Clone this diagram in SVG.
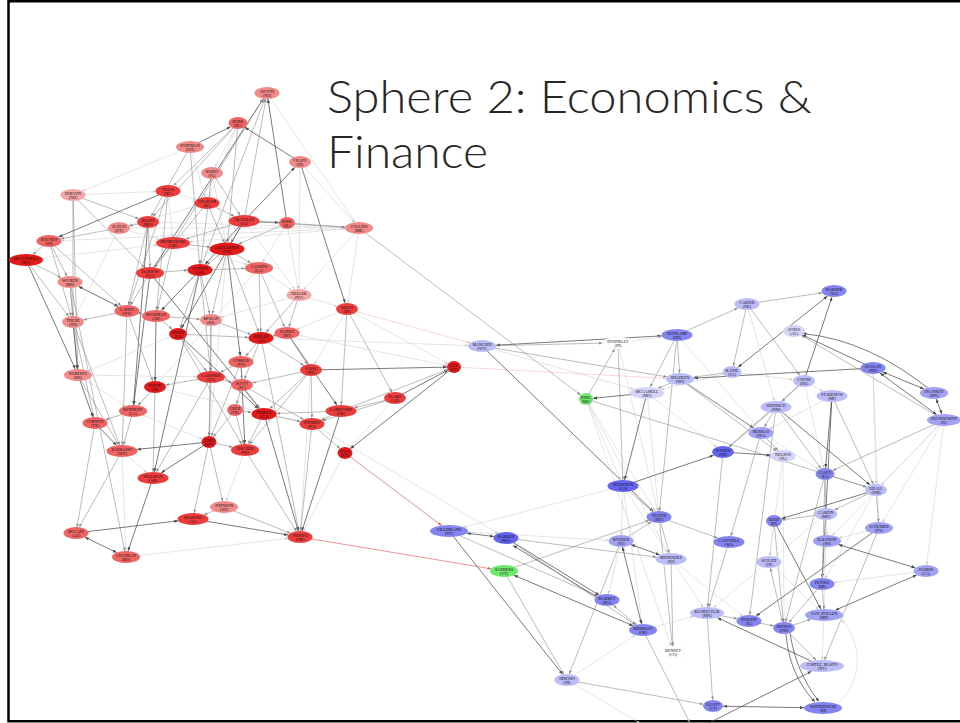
<svg xmlns="http://www.w3.org/2000/svg" width="960" height="723" viewBox="0 0 960 723">
<style>
.d{stroke:#4d4d4d;stroke-width:.75;fill:none;marker-end:url(#ad)}
.m{stroke:#8e8e8e;stroke-width:.6;fill:none;marker-end:url(#am)}
.l{stroke:#cacaca;stroke-width:.5;fill:none;marker-end:url(#al)}
.r{stroke:#d85050;stroke-width:.6;fill:none;marker-end:url(#ar)}
.rl{stroke:#f0b4b4;stroke-width:.5;fill:none;marker-end:url(#arl)}
.bi{marker-start:url(#ad)}
.bm{marker-start:url(#am)}
.r1{fill:#e41a1a}.r2{fill:#ec3c3c}.r3{fill:#f06464}.r4{fill:#f28a8a}.r5{fill:#f5a8a8}
.b1{fill:#6464ee}.b2{fill:#8585f1}.b3{fill:#a2a2f5}.b4{fill:#bcbcf8}.b5{fill:#d4d4fb}.bw{fill:#fff;stroke:#eee;stroke-width:.4}
.g{fill:#6fe86f}
.nd text{font-family:"Liberation Serif",serif;font-size:4px;text-anchor:middle;fill:#111}
.title{font-family:Lato,"Open Sans",sans-serif;font-weight:300;font-size:45px;fill:#262626}
</style>
<defs>
<marker id="ad" viewBox="0 0 10 10" refX="10" refY="5" markerWidth="4" markerHeight="4" markerUnits="userSpaceOnUse" orient="auto-start-reverse"><path d="M0,1L10,5L0,9z" fill="#4d4d4d"/></marker>
<marker id="am" viewBox="0 0 10 10" refX="10" refY="5" markerWidth="3.5" markerHeight="3.5" markerUnits="userSpaceOnUse" orient="auto-start-reverse"><path d="M0,1L10,5L0,9z" fill="#8e8e8e"/></marker>
<marker id="al" viewBox="0 0 10 10" refX="10" refY="5" markerWidth="3" markerHeight="3" markerUnits="userSpaceOnUse" orient="auto-start-reverse"><path d="M0,1L10,5L0,9z" fill="#c4c4c4"/></marker>
<marker id="ar" viewBox="0 0 10 10" refX="10" refY="5" markerWidth="3.5" markerHeight="3.5" markerUnits="userSpaceOnUse" orient="auto"><path d="M0,1L10,5L0,9z" fill="#d85050"/></marker>
<marker id="arl" viewBox="0 0 10 10" refX="10" refY="5" markerWidth="3" markerHeight="3" markerUnits="userSpaceOnUse" orient="auto"><path d="M0,1L10,5L0,9z" fill="#f0b4b4"/></marker>
</defs>
<rect x="0" y="0" width="960" height="723" fill="#fff"/>
<rect x="8.5" y="1.25" width="960" height="720" fill="none" stroke="#000" stroke-width="2.5"/>
<text class="title" x="327" y="113" textLength="485" lengthAdjust="spacingAndGlyphs">Sphere 2: Economics &amp;</text>
<text class="title" x="327" y="168" textLength="161" lengthAdjust="spacingAndGlyphs">Finance</text>
<g id="connectors">
<line class="d" x1="287" y1="223" x2="267.9" y2="99"/>
<line class="m" x1="244" y1="221" x2="265.9" y2="99"/>
<line class="d" x1="150" y1="273" x2="263.3" y2="98.7"/>
<line class="m" x1="200" y1="270" x2="264.8" y2="98.9"/>
<line class="m" x1="173" y1="243" x2="263.4" y2="98.7"/>
<line class="l" x1="267" y1="93" x2="355.1" y2="222.2"/>
<line class="d" x1="190" y1="147" x2="230.6" y2="126.7"/>
<line class="d" x1="300" y1="162" x2="244.7" y2="127.2"/>
<line class="m" x1="238" y1="123" x2="173.5" y2="185.6"/>
<line class="m" x1="238" y1="123" x2="152.9" y2="216.6"/>
<line class="l" x1="238" y1="123" x2="209.3" y2="197.1"/>
<line class="l" x1="238" y1="123" x2="215" y2="167.2"/>
<line class="m" x1="238" y1="123" x2="227.6" y2="242.5"/>
<line class="l" x1="190" y1="147" x2="82.5" y2="191.1"/>
<line class="m" x1="190" y1="147" x2="199.5" y2="264"/>
<line class="l" x1="190" y1="147" x2="205.2" y2="197.1"/>
<line class="m" x1="190" y1="147" x2="151.2" y2="216.3"/>
<line class="m" x1="212" y1="173" x2="240.1" y2="215.2"/>
<line class="l" x1="212" y1="173" x2="225.7" y2="242.5"/>
<line class="m" x1="212" y1="173" x2="200.7" y2="264"/>
<line class="d" x1="244" y1="221" x2="294.9" y2="167.3"/>
<line class="d" x1="300" y1="162" x2="345.1" y2="303.1"/>
<line class="l" x1="300" y1="162" x2="354" y2="222.4"/>
<line class="l" x1="300" y1="162" x2="299" y2="289"/>
<line class="m" x1="73" y1="195" x2="77.8" y2="369"/>
<line class="m" x1="73" y1="195" x2="73" y2="316"/>
<line class="l" x1="73" y1="195" x2="155.6" y2="191.5"/>
<line class="m" x1="73" y1="195" x2="138.8" y2="218.7"/>
<line class="m" x1="73" y1="195" x2="144.5" y2="267.5"/>
<line class="d" x1="168" y1="191" x2="58.4" y2="237"/>
<line class="m" x1="168" y1="191" x2="129" y2="305.1"/>
<line class="l" x1="168" y1="191" x2="196.5" y2="199.8"/>
<line class="m" x1="168" y1="191" x2="156.6" y2="310"/>
<line class="l" x1="168" y1="191" x2="172.4" y2="237"/>
<line class="m" x1="207" y1="203" x2="234.4" y2="216.3"/>
<line class="l" x1="207" y1="203" x2="128.8" y2="225.2"/>
<line class="m" x1="207" y1="203" x2="224.2" y2="242.6"/>
<line class="m" x1="207" y1="203" x2="154.6" y2="267.3"/>
<line class="m" x1="148" y1="222" x2="129.3" y2="225.9"/>
<line class="d" x1="148" y1="222" x2="133.5" y2="405"/>
<line class="l" x1="148" y1="222" x2="345" y2="227.6"/>
<line class="m" x1="148" y1="222" x2="150" y2="267"/>
<line class="m" x1="148" y1="222" x2="128.4" y2="305"/>
<line class="m" x1="119" y1="228" x2="60.6" y2="238.8"/>
<line class="l" x1="119" y1="228" x2="345" y2="228"/>
<line class="l" x1="119" y1="228" x2="159.6" y2="239.3"/>
<line class="l" x1="119" y1="228" x2="75.8" y2="316.2"/>
<line class="d" x1="244" y1="221" x2="279" y2="222.6"/>
<line class="m" x1="244" y1="221" x2="345" y2="227.1"/>
<line class="m" x1="244" y1="221" x2="230.9" y2="242.7"/>
<line class="d" x1="244" y1="221" x2="204.9" y2="264.5"/>
<line class="d" x1="244" y1="221" x2="181.3" y2="328.4"/>
<line class="l" x1="244" y1="221" x2="294.8" y2="289.3"/>
<line class="m" x1="244" y1="221" x2="185.8" y2="239"/>
<line class="m" x1="287" y1="223" x2="345" y2="227"/>
<line class="l" x1="287" y1="223" x2="298" y2="289.1"/>
<line class="l" x1="287" y1="223" x2="262.6" y2="262.2"/>
<line class="m" x1="287" y1="223" x2="238.4" y2="244.1"/>
<line class="m" x1="359" y1="228" x2="580.7" y2="395"/>
<line class="l" x1="359" y1="228" x2="189.5" y2="241.7"/>
<line class="l" x1="359" y1="228" x2="303.9" y2="289.5"/>
<line class="l" x1="359" y1="228" x2="347.9" y2="303"/>
<line class="l" x1="359" y1="228" x2="61.5" y2="240.5"/>
<line class="m" x1="49" y1="241" x2="32.7" y2="254.5"/>
<line class="m" x1="49" y1="241" x2="67" y2="276.2"/>
<line class="m" x1="49" y1="241" x2="71.2" y2="316.1"/>
<line class="m" x1="49" y1="241" x2="121.1" y2="305.7"/>
<line class="m" x1="173" y1="243" x2="210.2" y2="247.1"/>
<line class="m" x1="173" y1="243" x2="154.4" y2="267.3"/>
<line class="l" x1="173" y1="243" x2="247.4" y2="264.6"/>
<line class="m" x1="173" y1="243" x2="157.4" y2="310"/>
<line class="d" x1="227" y1="249" x2="240.3" y2="356"/>
<line class="m" x1="227" y1="249" x2="250.8" y2="263.1"/>
<line class="m" x1="227" y1="249" x2="206.6" y2="264.9"/>
<line class="m" x1="227" y1="249" x2="258.7" y2="332.1"/>
<line class="m" x1="227" y1="249" x2="212.3" y2="314.1"/>
<line class="l" x1="227" y1="249" x2="209.6" y2="436"/>
<line class="d" x1="26" y1="260" x2="75.3" y2="369.1"/>
<line class="m" x1="26" y1="260" x2="61.3" y2="277.7"/>
<line class="l" x1="26" y1="260" x2="156.8" y2="244.9"/>
<line class="m" x1="26" y1="260" x2="68.8" y2="316.5"/>
<line class="d" x1="150" y1="273" x2="133.7" y2="405"/>
<line class="d" x1="150" y1="273" x2="259.5" y2="408.4"/>
<line class="m" x1="150" y1="273" x2="187.5" y2="270.2"/>
<line class="m" x1="150" y1="273" x2="130.5" y2="305.2"/>
<line class="d" x1="200" y1="270" x2="161.3" y2="310.4"/>
<line class="m" x1="200" y1="270" x2="210.4" y2="371"/>
<line class="m" x1="200" y1="270" x2="209.7" y2="314"/>
<line class="m" x1="200" y1="270" x2="245" y2="268.5"/>
<line class="d" x1="200" y1="270" x2="154.3" y2="472"/>
<line class="m" x1="200" y1="270" x2="180" y2="328.2"/>
<line class="l" x1="259" y1="268" x2="137.9" y2="405.4"/>
<line class="m" x1="259" y1="268" x2="260.8" y2="332"/>
<line class="l" x1="259" y1="268" x2="291.8" y2="290.1"/>
<line class="m" x1="259" y1="268" x2="284.5" y2="327.1"/>
<line class="d bi" x1="78.6" y1="286.4" x2="118.4" y2="306.6"/>
<line class="m" x1="70" y1="282" x2="72.6" y2="316"/>
<line class="m" x1="70" y1="282" x2="124.8" y2="551"/>
<line class="m" x1="70" y1="282" x2="77.5" y2="369"/>
<line class="m" x1="299" y1="295" x2="265.9" y2="332.5"/>
<line class="m" x1="299" y1="295" x2="288.9" y2="327.1"/>
<line class="l" x1="299" y1="295" x2="337.3" y2="306.2"/>
<line class="l" x1="299" y1="295" x2="220.8" y2="317.2"/>
<line class="m" x1="347" y1="309" x2="391.9" y2="392.2"/>
<line class="m" x1="347" y1="309" x2="341.4" y2="405"/>
<line class="l" x1="347" y1="309" x2="314.4" y2="364.3"/>
<line class="l" x1="347" y1="309" x2="448.1" y2="363.8"/>
<line class="l" x1="347" y1="309" x2="296.6" y2="329.2"/>
<line class="rl" x1="347" y1="309" x2="470.2" y2="342.8"/>
<line class="m" x1="127" y1="311" x2="83.3" y2="319.9"/>
<line class="m" x1="127" y1="311" x2="142.2" y2="313.6"/>
<line class="m" x1="127" y1="311" x2="152.8" y2="381.1"/>
<line class="m" x1="127" y1="311" x2="122.2" y2="445"/>
<line class="d" x1="156" y1="316" x2="155.1" y2="381"/>
<line class="m" x1="156" y1="316" x2="172.3" y2="329.3"/>
<line class="m" x1="156" y1="316" x2="200" y2="319.2"/>
<line class="m" x1="211" y1="320" x2="251" y2="334.4"/>
<line class="l" x1="211" y1="320" x2="88.1" y2="370.8"/>
<line class="m" x1="211" y1="320" x2="211" y2="371"/>
<line class="m" x1="211" y1="320" x2="209.1" y2="436"/>
<line class="d" x1="73" y1="322" x2="77.4" y2="369"/>
<line class="m" x1="73" y1="322" x2="93.7" y2="417"/>
<line class="m" x1="73" y1="322" x2="119.7" y2="445.1"/>
<line class="m" x1="287" y1="333" x2="272.6" y2="335.8"/>
<line class="d" x1="287" y1="333" x2="337" y2="405.2"/>
<line class="m" x1="287" y1="333" x2="307.3" y2="364.3"/>
<line class="l" x1="287" y1="333" x2="447.2" y2="365.6"/>
<line class="d" x1="178" y1="334" x2="258.3" y2="408.7"/>
<line class="m" x1="178" y1="334" x2="206.6" y2="371.3"/>
<line class="m" x1="178" y1="334" x2="248.5" y2="337.4"/>
<line class="m" x1="178" y1="334" x2="241.6" y2="444.2"/>
<line class="m" x1="261" y1="338" x2="245.6" y2="356.4"/>
<line class="m" x1="261" y1="338" x2="244.4" y2="379.1"/>
<line class="m" x1="261" y1="338" x2="298.8" y2="531"/>
<line class="m" x1="261" y1="338" x2="303.9" y2="365.4"/>
<line class="l" x1="261" y1="338" x2="468" y2="345.5"/>
<line class="d" x1="241" y1="362" x2="244.7" y2="444"/>
<line class="m" x1="241" y1="362" x2="241.7" y2="379"/>
<line class="m" x1="241" y1="362" x2="220.1" y2="372.4"/>
<line class="m" x1="241" y1="362" x2="211.3" y2="436.3"/>
<line class="d" x1="311" y1="370" x2="447" y2="367.1"/>
<line class="m" x1="311" y1="370" x2="252.2" y2="382.8"/>
<line class="m" x1="311" y1="370" x2="249.7" y2="444.3"/>
<line class="m" x1="311" y1="370" x2="311.9" y2="418"/>
<line class="m" x1="311" y1="370" x2="269.7" y2="408.7"/>
<line class="l" x1="311" y1="370" x2="300.4" y2="531"/>
<line class="d" x1="78" y1="375" x2="92.9" y2="417.1"/>
<line class="m" x1="78" y1="375" x2="118.6" y2="445.1"/>
<line class="l" x1="78" y1="375" x2="197" y2="376.8"/>
<line class="l" x1="78" y1="375" x2="125.3" y2="406"/>
<line class="m" x1="211" y1="377" x2="232.1" y2="382.4"/>
<line class="m" x1="211" y1="377" x2="165.4" y2="385.1"/>
<line class="m" x1="211" y1="377" x2="209.2" y2="436"/>
<line class="m" x1="211" y1="377" x2="156.4" y2="472.1"/>
<line class="m" x1="242" y1="385" x2="236.6" y2="404.1"/>
<line class="m" x1="242" y1="385" x2="259.7" y2="408.4"/>
<line class="m" x1="242" y1="385" x2="303.8" y2="419.5"/>
<line class="m" x1="155" y1="387" x2="138.1" y2="405.4"/>
<line class="m" x1="155" y1="387" x2="153.1" y2="472"/>
<line class="l" x1="155" y1="387" x2="300.8" y2="421.4"/>
<line class="d" x1="395" y1="398" x2="448" y2="370.1"/>
<line class="m" x1="395" y1="398" x2="354.1" y2="407.8"/>
<line class="m" x1="395" y1="398" x2="322.5" y2="420.7"/>
<line class="l" x1="395" y1="398" x2="349.4" y2="448.1"/>
<line class="m" x1="235" y1="410" x2="251.6" y2="412.3"/>
<line class="m" x1="235" y1="410" x2="213.1" y2="437"/>
<line class="m" x1="235" y1="410" x2="243.5" y2="444.1"/>
<line class="m" x1="133" y1="411" x2="105.4" y2="419.7"/>
<line class="m" x1="133" y1="411" x2="123.6" y2="445"/>
<line class="l" x1="133" y1="411" x2="202.3" y2="439.3"/>
<line class="m" x1="341" y1="411" x2="447.6" y2="369.5"/>
<line class="d" x1="341" y1="411" x2="301.9" y2="531.1"/>
<line class="m" x1="341" y1="411" x2="321.1" y2="419.9"/>
<line class="m" x1="341" y1="411" x2="276.5" y2="413.5"/>
<line class="d" x1="264" y1="414" x2="298.3" y2="531.1"/>
<line class="m" x1="264" y1="414" x2="300.5" y2="421.6"/>
<line class="m" x1="264" y1="414" x2="248.1" y2="444.1"/>
<line class="d" x1="95" y1="423" x2="116.6" y2="445.4"/>
<line class="m" x1="95" y1="423" x2="77" y2="527.1"/>
<line class="m" x1="312" y1="424" x2="340" y2="448.6"/>
<line class="l" x1="312" y1="424" x2="498.1" y2="533.4"/>
<line class="m" x1="312" y1="424" x2="300.6" y2="531"/>
<line class="d" x1="209" y1="442" x2="137" y2="449.4"/>
<line class="d" x1="209" y1="442" x2="161" y2="472.9"/>
<line class="m" x1="209" y1="442" x2="222.6" y2="501.1"/>
<line class="m" x1="209" y1="442" x2="194.2" y2="513"/>
<line class="m" x1="209" y1="442" x2="232.6" y2="447.2"/>
<line class="m" x1="245" y1="450" x2="296.4" y2="531.3"/>
<line class="l" x1="245" y1="450" x2="226.2" y2="501.1"/>
<line class="m" x1="122" y1="451" x2="79.2" y2="527.2"/>
<line class="l" x1="122" y1="451" x2="146.7" y2="472.5"/>
<line class="l" x1="122" y1="451" x2="125.8" y2="551"/>
<line class="d" x1="454" y1="367" x2="350.3" y2="448.8"/>
<line class="r" x1="345" y1="453" x2="441.6" y2="525.5"/>
<line class="l" x1="345" y1="453" x2="303.1" y2="531.2"/>
<line class="d" x1="153" y1="478" x2="128" y2="551.1"/>
<line class="m" x1="224" y1="507" x2="290.3" y2="533.2"/>
<line class="m" x1="224" y1="507" x2="203.9" y2="514.8"/>
<line class="d" x1="76" y1="533" x2="178.2" y2="520.8"/>
<line class="d bi" x1="84.8" y1="537.2" x2="116.7" y2="552.5"/>
<line class="d" x1="193" y1="519" x2="288.2" y2="535"/>
<line class="l" x1="126" y1="557" x2="287.9" y2="538.4"/>
<line class="r" x1="300" y1="537" x2="491" y2="568.8"/>
<line class="rl" x1="454" y1="367" x2="666" y2="378.3"/>
<line class="d bi" x1="496" y1="345.2" x2="661.5" y2="335.9"/>
<line class="m" x1="482" y1="346" x2="602.5" y2="343.1"/>
<line class="m" x1="482" y1="346" x2="667" y2="376.8"/>
<line class="d" x1="482" y1="346" x2="653.4" y2="511.6"/>
<line class="l" x1="482" y1="346" x2="633.8" y2="389.2"/>
<line class="m" x1="586" y1="399" x2="614.7" y2="348.9"/>
<line class="m" x1="618" y1="343" x2="622.8" y2="480"/>
<line class="l" x1="618" y1="343" x2="661.6" y2="337.1"/>
<line class="l" x1="618" y1="343" x2="657.6" y2="511"/>
<line class="m" x1="677" y1="335" x2="650.1" y2="387.1"/>
<line class="m" x1="677" y1="335" x2="659.6" y2="511"/>
<line class="m" x1="677" y1="335" x2="737.8" y2="308.1"/>
<line class="m" x1="677" y1="335" x2="679.6" y2="373"/>
<line class="l" x1="677" y1="335" x2="778.2" y2="450.5"/>
<line class="m" x1="747" y1="304" x2="822" y2="292.8"/>
<line class="d bi" x1="737.9" y1="367.3" x2="827.5" y2="296.1"/>
<line class="d" x1="804" y1="381" x2="832" y2="296.9"/>
<line class="m" x1="747" y1="304" x2="799.9" y2="375.4"/>
<line class="m" x1="747" y1="304" x2="733.3" y2="366"/>
<line class="l" x1="747" y1="304" x2="774.3" y2="401"/>
<line class="d" x1="873" y1="368" x2="802.3" y2="334.9"/>
<path class="d" d="M934,393 Q870,340 802.5,333.5"/>
<line class="m" x1="944" y1="420" x2="801.4" y2="335.4"/>
<line class="m" x1="732" y1="372" x2="693.4" y2="377.2"/>
<line class="l" x1="732" y1="372" x2="793" y2="379.6"/>
<line class="l" x1="732" y1="372" x2="660.9" y2="389.6"/>
<line class="d" x1="873" y1="368" x2="694" y2="378.2"/>
<line class="d bi" x1="882.5" y1="371.9" x2="923.9" y2="388.9"/>
<line class="d bi" x1="879.9" y1="373" x2="936.6" y2="414.6"/>
<line class="d bi" x1="936.2" y1="398.9" x2="941.8" y2="414.1"/>
<line class="l" x1="873" y1="368" x2="875.9" y2="484"/>
<line class="l" x1="873" y1="368" x2="878.8" y2="522"/>
<line class="d" x1="680" y1="379" x2="753.7" y2="428.1"/>
<line class="m" x1="680" y1="379" x2="776.2" y2="451"/>
<line class="m" x1="680" y1="379" x2="657.9" y2="388.4"/>
<line class="l" x1="680" y1="379" x2="818.4" y2="469.7"/>
<line class="m" x1="804" y1="381" x2="782" y2="401.5"/>
<line class="l" x1="804" y1="381" x2="822.9" y2="391.1"/>
<line class="m" x1="804" y1="381" x2="728.8" y2="446.9"/>
<line class="l" x1="804" y1="381" x2="823.7" y2="468"/>
<line class="d" x1="647" y1="393" x2="593" y2="398.3"/>
<line class="d" x1="647" y1="393" x2="624.6" y2="480"/>
<line class="l" x1="647" y1="393" x2="658.4" y2="511"/>
<line class="l" x1="647" y1="393" x2="716.7" y2="447.1"/>
<line class="d" x1="832" y1="396" x2="822.3" y2="578"/>
<line class="m" x1="832" y1="396" x2="873.3" y2="484.2"/>
<line class="l" x1="832" y1="396" x2="769.5" y2="428.6"/>
<line class="d" x1="832" y1="396" x2="825.5" y2="468"/>
<line class="l" x1="586" y1="399" x2="620.5" y2="480.1"/>
<line class="l" x1="586" y1="399" x2="655.4" y2="511.3"/>
<line class="l" x1="586" y1="399" x2="667.9" y2="553.1"/>
<line class="l" x1="586" y1="399" x2="671" y2="646"/>
<line class="m" x1="586" y1="399" x2="866.5" y2="487"/>
<line class="d" x1="776" y1="407" x2="870" y2="485"/>
<line class="m" x1="776" y1="407" x2="821" y2="468.6"/>
<line class="m" x1="776" y1="407" x2="729" y2="447"/>
<line class="m" x1="776" y1="407" x2="749.8" y2="615"/>
<line class="m" x1="776" y1="407" x2="764.3" y2="427.2"/>
<line class="m" x1="944" y1="420" x2="832.7" y2="470.5"/>
<line class="l" x1="944" y1="420" x2="881.2" y2="484.7"/>
<line class="l" x1="944" y1="420" x2="882.5" y2="522.2"/>
<line class="l" x1="944" y1="420" x2="926.7" y2="565"/>
<line class="l" x1="944" y1="420" x2="832.4" y2="535.5"/>
<line class="m" x1="761" y1="433" x2="777.8" y2="450.5"/>
<line class="m" x1="761" y1="433" x2="730.8" y2="536"/>
<line class="d" x1="723" y1="452" x2="770.5" y2="455.2"/>
<line class="d" x1="623" y1="486" x2="713.7" y2="455.2"/>
<line class="m" x1="723" y1="452" x2="707.6" y2="607"/>
<line class="l" x1="783" y1="456" x2="784" y2="622"/>
<line class="l" x1="783" y1="456" x2="769.8" y2="556"/>
<line class="m" x1="825" y1="474" x2="866.5" y2="487"/>
<line class="m" x1="825" y1="474" x2="822.2" y2="578"/>
<line class="m" x1="825" y1="474" x2="785.6" y2="622.1"/>
<line class="m" x1="825" y1="474" x2="825.9" y2="508"/>
<line class="m" x1="623" y1="486" x2="652.9" y2="511.8"/>
<line class="l" x1="623" y1="486" x2="463.7" y2="527.2"/>
<line class="l" x1="623" y1="486" x2="621.2" y2="535"/>
<line class="l" x1="623" y1="486" x2="642.2" y2="624"/>
<line class="l" x1="623" y1="486" x2="703.1" y2="607.2"/>
<line class="m" x1="876" y1="490" x2="878.5" y2="522"/>
<line class="m" x1="876" y1="490" x2="834.5" y2="509.9"/>
<line class="d" x1="876" y1="490" x2="781.4" y2="518.7"/>
<line class="l" x1="876" y1="490" x2="825.3" y2="578.2"/>
<line class="m" x1="826" y1="514" x2="781.9" y2="519.9"/>
<line class="l" x1="826" y1="514" x2="827" y2="535"/>
<line class="l" x1="826" y1="514" x2="824.1" y2="609"/>
<line class="l" x1="826" y1="514" x2="713.6" y2="607.5"/>
<line class="m" x1="659" y1="517" x2="672.4" y2="646"/>
<line class="m" x1="659" y1="517" x2="669.3" y2="553"/>
<line class="m" x1="659" y1="517" x2="717.6" y2="537.9"/>
<line class="m" x1="504" y1="571" x2="648.9" y2="520.5"/>
<line class="d" x1="774" y1="521" x2="820.9" y2="609.1"/>
<line class="m" x1="774" y1="521" x2="783.4" y2="622"/>
<line class="l" x1="774" y1="521" x2="769.7" y2="556"/>
<line class="d" x1="879" y1="528" x2="756" y2="616"/>
<line class="m" x1="879" y1="528" x2="824.5" y2="660"/>
<line class="l" x1="879" y1="528" x2="839.1" y2="538"/>
<line class="d bi" x1="466.7" y1="533.2" x2="493.9" y2="536.5"/>
<line class="d" x1="449" y1="531" x2="562.6" y2="674.4"/>
<line class="m" x1="449" y1="531" x2="597.7" y2="596"/>
<line class="l" x1="449" y1="531" x2="608.5" y2="540.3"/>
<line class="d" x1="513.7" y1="542.7" x2="599.3" y2="595.3"/>
<line class="d" x1="598.5" y1="598" x2="512.9" y2="545.4"/>
<line class="m" x1="506" y1="538" x2="656.3" y2="557.1"/>
<line class="m" x1="506" y1="538" x2="635.5" y2="624.9"/>
<line class="d bi" x1="631" y1="544.6" x2="659.7" y2="554.9"/>
<line class="d bi" x1="622.5" y1="547" x2="641.5" y2="624"/>
<line class="m" x1="621" y1="541" x2="569.3" y2="674.1"/>
<line class="m" x1="621" y1="541" x2="651.4" y2="521.8"/>
<line class="l" x1="621" y1="541" x2="608.4" y2="594"/>
<line class="d bi" x1="838.4" y1="544.5" x2="915.4" y2="567.8"/>
<line class="l" x1="827" y1="541" x2="822.7" y2="578"/>
<line class="m" x1="729" y1="542" x2="708.8" y2="607"/>
<line class="m" x1="671" y1="559" x2="672.9" y2="646"/>
<line class="l" x1="671" y1="559" x2="742.5" y2="615.9"/>
<line class="m bm" x1="770.4" y1="568" x2="782.6" y2="622"/>
<line class="l" x1="769" y1="562" x2="818.1" y2="609.3"/>
<line class="d bi" x1="513.9" y1="575.2" x2="633.1" y2="625.8"/>
<line class="m" x1="504" y1="571" x2="563.7" y2="674.2"/>
<line class="d bi" x1="835.2" y1="610.2" x2="916.7" y2="575"/>
<line class="l" x1="926" y1="571" x2="834.4" y2="582.4"/>
<line class="m" x1="822" y1="584" x2="788.7" y2="622.6"/>
<line class="m" x1="822" y1="584" x2="823.9" y2="609"/>
<line class="m bm" x1="613.2" y1="605.2" x2="636.6" y2="624.7"/>
<line class="d" x1="822" y1="666" x2="717.4" y2="617.8"/>
<line class="m" x1="707" y1="613" x2="737.4" y2="618.8"/>
<line class="m" x1="707" y1="613" x2="712.6" y2="700"/>
<line class="m" x1="784" y1="628" x2="810.8" y2="619.3"/>
<line class="l" x1="824" y1="615" x2="822.2" y2="660"/>
<line class="m" x1="749" y1="621" x2="773.7" y2="625.9"/>
<path class="d" d="M786,634 C789,668 802,688 815,702"/>
<path class="d" d="M790,633 C795,665 807,686 819,701.5"/>
<line class="m" x1="784" y1="628" x2="816.2" y2="660.2"/>
<line class="m" x1="643" y1="630" x2="690" y2="723"/>
<line class="l" x1="643" y1="630" x2="693.4" y2="616.6"/>
<line class="m" x1="567" y1="680" x2="703.4" y2="704.3"/>
<line class="l" x1="567" y1="680" x2="640" y2="723"/>
<line class="l" x1="567" y1="680" x2="635.4" y2="635"/>
<line class="d bi" x1="723" y1="706.2" x2="804" y2="707.7"/>
<line class="d" x1="705" y1="725" x2="811.5" y2="671.3"/>
<path class="l" d="M838,703 C864,680 862,642 842,620"/>
</g>
<g class="nd">
<g id="ayotte"><ellipse class="r4" cx="267" cy="93" rx="12.5" ry="6"/><text x="267" y="92.6">AYOTTE</text><text x="267" y="97.2">(NH)</text></g>
<g id="burr"><ellipse class="r3" cx="238" cy="123" rx="9.5" ry="6"/><text x="238" y="122.6">BURR</text><text x="238" y="127.2">(NC)</text></g>
<g id="portman"><ellipse class="r4" cx="190" cy="147" rx="14" ry="6"/><text x="190" y="146.6">PORTMAN</text><text x="190" y="151.2">(OH)</text></g>
<g id="rubio"><ellipse class="r4" cx="212" cy="173" rx="11" ry="6"/><text x="212" y="172.6">RUBIO</text><text x="212" y="177.2">(FL)</text></g>
<g id="crapo"><ellipse class="r4" cx="300" cy="162" rx="11" ry="6"/><text x="300" y="161.6">CRAPO</text><text x="300" y="166.2">(ID)</text></g>
<g id="hoeven"><ellipse class="r5" cx="73" cy="195" rx="12.5" ry="6"/><text x="73" y="194.6">HOEVEN</text><text x="73" y="199.2">(ND)</text></g>
<g id="tillis"><ellipse class="r2" cx="168" cy="191" rx="12.5" ry="6"/><text x="168" y="190.6">TILLIS</text><text x="168" y="195.2">(NC)</text></g>
<g id="graham"><ellipse class="r2" cx="207" cy="203" rx="12.5" ry="6"/><text x="207" y="202.6">GRAHAM</text><text x="207" y="207.2">(SC)</text></g>
<g id="blunt"><ellipse class="r2" cx="148" cy="222" rx="11" ry="6"/><text x="148" y="221.6">BLUNT</text><text x="148" y="226.2">(MO)</text></g>
<g id="hatch"><ellipse class="r4" cx="119" cy="228" rx="11" ry="6"/><text x="119" y="227.6">HATCH</text><text x="119" y="232.2">(UT)</text></g>
<g id="grassley"><ellipse class="r2" cx="244" cy="221" rx="15.5" ry="6"/><text x="244" y="220.6">GRASSLEY</text><text x="244" y="225.2">(IA)</text></g>
<g id="kirk"><ellipse class="r3" cx="287" cy="223" rx="8" ry="6"/><text x="287" y="222.6">KIRK</text><text x="287" y="227.2">(IL)</text></g>
<g id="collins"><ellipse class="r4" cx="359" cy="228" rx="14" ry="6"/><text x="359" y="227.6">COLLINS</text><text x="359" y="232.2">(ME)</text></g>
<g id="rounds"><ellipse class="r3" cx="49" cy="241" rx="12.5" ry="6"/><text x="49" y="240.6">ROUNDS</text><text x="49" y="245.2">(SD)</text></g>
<g id="murkowski"><ellipse class="r2" cx="173" cy="243" rx="17" ry="6"/><text x="173" y="242.6">MURKOWSKI</text><text x="173" y="247.2">(AK)</text></g>
<g id="alexander"><ellipse class="r1" cx="227" cy="249" rx="17.5" ry="6.5"/><text x="227" y="248.6">ALEXANDER</text><text x="227" y="253.2">(TN)</text></g>
<g id="mcconnell"><ellipse class="r1" cx="26" cy="260" rx="17" ry="6"/><text x="26" y="259.6">MCCONNELL</text><text x="26" y="264.2">(KY)</text></g>
<g id="isakson"><ellipse class="r2" cx="150" cy="273" rx="14" ry="6"/><text x="150" y="272.6">ISAKSON</text><text x="150" y="277.2">(GA)</text></g>
<g id="cotton"><ellipse class="r1" cx="200" cy="270" rx="12.5" ry="6"/><text x="200" y="269.6">COTTON</text><text x="200" y="274.2">(AR)</text></g>
<g id="cassidy"><ellipse class="r3" cx="259" cy="268" rx="14" ry="6"/><text x="259" y="267.6">CASSIDY</text><text x="259" y="272.2">(LA)</text></g>
<g id="wicker"><ellipse class="r4" cx="70" cy="282" rx="12.5" ry="6"/><text x="70" y="281.6">WICKER</text><text x="70" y="286.2">(MS)</text></g>
<g id="heller"><ellipse class="r5" cx="299" cy="295" rx="12.5" ry="6"/><text x="299" y="294.6">HELLER</text><text x="299" y="299.2">(NV)</text></g>
<g id="risch"><ellipse class="r2" cx="347" cy="309" rx="11" ry="6"/><text x="347" y="308.6">RISCH</text><text x="347" y="313.2">(ID)</text></g>
<g id="capito"><ellipse class="r3" cx="127" cy="311" rx="12.5" ry="6"/><text x="127" y="310.6">CAPITO</text><text x="127" y="315.2">(WV)</text></g>
<g id="boozman"><ellipse class="r3" cx="156" cy="316" rx="14" ry="6"/><text x="156" y="315.6">BOOZMAN</text><text x="156" y="320.2">(AR)</text></g>
<g id="moran"><ellipse class="r4" cx="211" cy="320" rx="11" ry="6"/><text x="211" y="319.6">MORAN</text><text x="211" y="324.2">(KS)</text></g>
<g id="thune"><ellipse class="r4" cx="73" cy="322" rx="11" ry="6"/><text x="73" y="321.6">THUNE</text><text x="73" y="326.2">(SD)</text></g>
<g id="daines"><ellipse class="r3" cx="287" cy="333" rx="12.5" ry="6"/><text x="287" y="332.6">DAINES</text><text x="287" y="337.2">(MT)</text></g>
<g id="ernst"><ellipse class="r1" cx="178" cy="334" rx="9" ry="6"/><text x="178" y="333.6">ERNST</text><text x="178" y="338.2">(IA)</text></g>
<g id="shelby"><ellipse class="r1" cx="261" cy="338" rx="12.5" ry="6"/><text x="261" y="337.6">SHELBY</text><text x="261" y="342.2">(AL)</text></g>
<g id="corker"><ellipse class="r3" cx="241" cy="362" rx="12.5" ry="6"/><text x="241" y="361.6">CORKER</text><text x="241" y="366.2">(TN)</text></g>
<g id="lee"><ellipse class="r1" cx="454" cy="367" rx="7" ry="6"/><text x="454" y="366.6">LEE</text><text x="454" y="371.2">(UT)</text></g>
<g id="sasse"><ellipse class="r2" cx="311" cy="370" rx="11" ry="6"/><text x="311" y="369.6">SASSE</text><text x="311" y="374.2">(NE)</text></g>
<g id="roberts"><ellipse class="r4" cx="78" cy="375" rx="14" ry="6"/><text x="78" y="374.6">ROBERTS</text><text x="78" y="379.2">(KS)</text></g>
<g id="gardner"><ellipse class="r2" cx="211" cy="377" rx="14" ry="6"/><text x="211" y="376.6">GARDNER</text><text x="211" y="381.2">(CO)</text></g>
<g id="scott"><ellipse class="r3" cx="242" cy="385" rx="11" ry="6"/><text x="242" y="384.6">SCOTT</text><text x="242" y="389.2">(SC)</text></g>
<g id="young"><ellipse class="r1" cx="155" cy="387" rx="11" ry="6"/><text x="155" y="386.6">YOUNG</text><text x="155" y="391.2">(IN)</text></g>
<g id="flake"><ellipse class="r2" cx="395" cy="398" rx="11" ry="6"/><text x="395" y="397.6">FLAKE</text><text x="395" y="402.2">(AZ)</text></g>
<g id="cruz"><ellipse class="r3" cx="235" cy="410" rx="8" ry="6"/><text x="235" y="409.6">CRUZ</text><text x="235" y="414.2">(TX)</text></g>
<g id="kennedy"><ellipse class="r3" cx="133" cy="411" rx="14" ry="6"/><text x="133" y="410.6">KENNEDY</text><text x="133" y="415.2">(LA)</text></g>
<g id="lankford"><ellipse class="r2" cx="341" cy="411" rx="15.5" ry="6"/><text x="341" y="410.6">LANKFORD</text><text x="341" y="415.2">(OK)</text></g>
<g id="perdue"><ellipse class="r1" cx="264" cy="414" rx="12.5" ry="6"/><text x="264" y="413.6">PERDUE</text><text x="264" y="418.2">(GA)</text></g>
<g id="cornyn"><ellipse class="r3" cx="95" cy="423" rx="12.5" ry="6"/><text x="95" y="422.6">CORNYN</text><text x="95" y="427.2">(TX)</text></g>
<g id="toomey"><ellipse class="r2" cx="312" cy="424" rx="12.5" ry="6"/><text x="312" y="423.6">TOOMEY</text><text x="312" y="428.2">(PA)</text></g>
<g id="enzi"><ellipse class="r1" cx="209" cy="442" rx="7.5" ry="6"/><text x="209" y="441.6">ENZI</text><text x="209" y="446.2">(WY)</text></g>
<g id="fischer"><ellipse class="r2" cx="245" cy="450" rx="14" ry="6"/><text x="245" y="449.6">FISCHER</text><text x="245" y="454.2">(NE)</text></g>
<g id="barrasso"><ellipse class="r3" cx="122" cy="451" rx="15.5" ry="6"/><text x="122" y="450.6">BARRASSO</text><text x="122" y="455.2">(WY)</text></g>
<g id="paul"><ellipse class="r1" cx="345" cy="453" rx="7.5" ry="6"/><text x="345" y="452.6">PAUL</text><text x="345" y="457.2">(KY)</text></g>
<g id="sullivan"><ellipse class="r2" cx="153" cy="478" rx="15.5" ry="6"/><text x="153" y="477.6">SULLIVAN</text><text x="153" y="482.2">(AK)</text></g>
<g id="johnson"><ellipse class="r4" cx="224" cy="507" rx="14" ry="6"/><text x="224" y="506.6">JOHNSON</text><text x="224" y="511.2">(WI)</text></g>
<g id="sessions"><ellipse class="r2" cx="193" cy="519" rx="15.5" ry="6"/><text x="193" y="518.6">SESSIONS</text><text x="193" y="523.2">(AL)</text></g>
<g id="mccain"><ellipse class="r3" cx="76" cy="533" rx="12.5" ry="6"/><text x="76" y="532.6">MCCAIN</text><text x="76" y="537.2">(AZ)</text></g>
<g id="inhofe"><ellipse class="r2" cx="300" cy="537" rx="12.5" ry="6"/><text x="300" y="536.6">INHOFE</text><text x="300" y="541.2">(OK)</text></g>
<g id="cochran"><ellipse class="r3" cx="126" cy="557" rx="14" ry="6"/><text x="126" y="556.6">COCHRAN</text><text x="126" y="561.2">(MS)</text></g>
<g id="manchin"><ellipse class="b4" cx="482" cy="346" rx="14" ry="6"/><text x="482" y="345.6">MANCHIN</text><text x="482" y="350.2">(WV)</text></g>
<g id="donnelly"><ellipse class="bw" cx="618" cy="343" rx="15.5" ry="6"/><text x="618" y="342.6">DONNELLY</text><text x="618" y="347.2">(IN)</text></g>
<g id="heitkamp"><ellipse class="b2" cx="677" cy="335" rx="15.5" ry="6"/><text x="677" y="334.6">HEITKAMP</text><text x="677" y="339.2">(ND)</text></g>
<g id="warner"><ellipse class="b2" cx="834" cy="291" rx="12.5" ry="6"/><text x="834" y="290.6">WARNER</text><text x="834" y="295.2">(VA)</text></g>
<g id="carper"><ellipse class="b4" cx="747" cy="304" rx="12.5" ry="6"/><text x="747" y="303.6">CARPER</text><text x="747" y="308.2">(DE)</text></g>
<g id="jones"><ellipse class="b5" cx="794" cy="331" rx="11" ry="6"/><text x="794" y="330.6">JONES</text><text x="794" y="335.2">(AL)</text></g>
<g id="kaine"><ellipse class="b4" cx="732" cy="372" rx="9.5" ry="6"/><text x="732" y="371.6">KAINE</text><text x="732" y="376.2">(VA)</text></g>
<g id="hassan"><ellipse class="b2" cx="873" cy="368" rx="12.5" ry="6"/><text x="873" y="367.6">HASSAN</text><text x="873" y="372.2">(NH)</text></g>
<g id="shaheen"><ellipse class="b4" cx="680" cy="379" rx="14" ry="6"/><text x="680" y="378.6">SHAHEEN</text><text x="680" y="383.2">(NH)</text></g>
<g id="coons"><ellipse class="b4" cx="804" cy="381" rx="11" ry="6"/><text x="804" y="380.6">COONS</text><text x="804" y="385.2">(DE)</text></g>
<g id="mccaskill"><ellipse class="b5" cx="647" cy="393" rx="17" ry="6"/><text x="647" y="392.6">MCCASKILL</text><text x="647" y="397.2">(MO)</text></g>
<g id="franken"><ellipse class="b3" cx="934" cy="393" rx="14" ry="6"/><text x="934" y="392.6">FRANKEN</text><text x="934" y="397.2">(MN)</text></g>
<g id="stabenow"><ellipse class="b4" cx="832" cy="396" rx="15.5" ry="6"/><text x="832" y="395.6">STABENOW</text><text x="832" y="400.2">(MI)</text></g>
<g id="king"><ellipse class="g" cx="586" cy="399" rx="7" ry="6"/><text x="586" y="398.6">KING</text><text x="586" y="403.2">(ME)</text></g>
<g id="heinrich"><ellipse class="b4" cx="776" cy="407" rx="15.5" ry="6"/><text x="776" y="406.6">HEINRICH</text><text x="776" y="411.2">(NM)</text></g>
<g id="duckworth"><ellipse class="b3" cx="944" cy="420" rx="17" ry="6"/><text x="944" y="419.6">DUCKWORTH</text><text x="944" y="424.2">(IL)</text></g>
<g id="murray"><ellipse class="b3" cx="761" cy="433" rx="12.5" ry="6"/><text x="761" y="432.6">MURRAY</text><text x="761" y="437.2">(WA)</text></g>
<g id="wyden"><ellipse class="b1" cx="723" cy="452" rx="11" ry="6"/><text x="723" y="451.6">WYDEN</text><text x="723" y="456.2">(OR)</text></g>
<g id="nelson"><ellipse class="b5" cx="783" cy="456" rx="12.5" ry="6"/><text x="783" y="455.6">NELSON</text><text x="783" y="460.2">(FL)</text></g>
<g id="casey"><ellipse class="b2" cx="825" cy="474" rx="9.5" ry="6"/><text x="825" y="473.6">CASEY</text><text x="825" y="478.2">(PA)</text></g>
<g id="feinstein"><ellipse class="b1" cx="623" cy="486" rx="15.5" ry="6"/><text x="623" y="485.6">FEINSTEIN</text><text x="623" y="490.2">(CA)</text></g>
<g id="udall"><ellipse class="b4" cx="876" cy="490" rx="11" ry="6"/><text x="876" y="489.6">UDALL</text><text x="876" y="494.2">(NM)</text></g>
<g id="cardin"><ellipse class="b4" cx="826" cy="514" rx="11.5" ry="6"/><text x="826" y="513.6">CARDIN</text><text x="826" y="518.2">(MD)</text></g>
<g id="tester"><ellipse class="b2" cx="659" cy="517" rx="12.5" ry="6"/><text x="659" y="516.6">TESTER</text><text x="659" y="521.2">(MT)</text></g>
<g id="reed"><ellipse class="b2" cx="774" cy="521" rx="8" ry="6"/><text x="774" y="520.6">REED</text><text x="774" y="525.2">(RI)</text></g>
<g id="schumer"><ellipse class="b3" cx="879" cy="528" rx="14" ry="6"/><text x="879" y="527.6">SCHUMER</text><text x="879" y="532.2">(NY)</text></g>
<g id="gillibrand"><ellipse class="b2" cx="449" cy="531" rx="19" ry="6"/><text x="449" y="530.6">GILLIBRAND</text><text x="449" y="535.2">(NY)</text></g>
<g id="warren"><ellipse class="b1" cx="506" cy="538" rx="12.5" ry="6"/><text x="506" y="537.6">WARREN</text><text x="506" y="542.2">(MA)</text></g>
<g id="booker"><ellipse class="b3" cx="621" cy="541" rx="12.5" ry="6"/><text x="621" y="540.6">BOOKER</text><text x="621" y="545.2">(NJ)</text></g>
<g id="baldwin"><ellipse class="b3" cx="827" cy="541" rx="14" ry="6"/><text x="827" y="540.6">BALDWIN</text><text x="827" y="545.2">(WI)</text></g>
<g id="cantwell"><ellipse class="b2" cx="729" cy="542" rx="15.5" ry="6"/><text x="729" y="541.6">CANTWELL</text><text x="729" y="546.2">(WA)</text></g>
<g id="menendez"><ellipse class="b4" cx="671" cy="559" rx="15.5" ry="6"/><text x="671" y="558.6">MENENDEZ</text><text x="671" y="563.2">(NJ)</text></g>
<g id="schatz"><ellipse class="b4" cx="769" cy="562" rx="12.5" ry="6"/><text x="769" y="561.6">SCHATZ</text><text x="769" y="566.2">(HI)</text></g>
<g id="sanders"><ellipse class="g" cx="504" cy="571" rx="14" ry="6"/><text x="504" y="570.6">SANDERS</text><text x="504" y="575.2">(VT)</text></g>
<g id="harris"><ellipse class="b3" cx="926" cy="571" rx="12.5" ry="6"/><text x="926" y="570.6">HARRIS</text><text x="926" y="575.2">(CA)</text></g>
<g id="peters"><ellipse class="b2" cx="822" cy="584" rx="12.5" ry="6"/><text x="822" y="583.6">PETERS</text><text x="822" y="588.2">(MI)</text></g>
<g id="markey"><ellipse class="b2" cx="607" cy="600" rx="12.5" ry="6"/><text x="607" y="599.6">MARKEY</text><text x="607" y="604.2">(MA)</text></g>
<g id="klobuchar"><ellipse class="b4" cx="707" cy="613" rx="17" ry="6"/><text x="707" y="612.6">KLOBUCHAR</text><text x="707" y="617.2">(MN)</text></g>
<g id="van_hollen"><ellipse class="b3" cx="824" cy="615" rx="19" ry="6"/><text x="824" y="614.6">VAN_HOLLEN</text><text x="824" y="619.2">(MD)</text></g>
<g id="durbin"><ellipse class="b2" cx="749" cy="621" rx="12.5" ry="6"/><text x="749" y="620.6">DURBIN</text><text x="749" y="625.2">(IL)</text></g>
<g id="brown"><ellipse class="b2" cx="784" cy="628" rx="11" ry="6"/><text x="784" y="627.6">BROWN</text><text x="784" y="632.2">(OH)</text></g>
<g id="merkley"><ellipse class="b2" cx="643" cy="630" rx="14" ry="6"/><text x="643" y="629.6">MERKLEY</text><text x="643" y="634.2">(OR)</text></g>
<g id="bennet"><ellipse class="bw" cx="673" cy="652" rx="12.5" ry="6"/><text x="673" y="651.6">BENNET</text><text x="673" y="656.2">(CO)</text></g>
<g id="cortez_masto"><ellipse class="b4" cx="822" cy="666" rx="22" ry="6"/><text x="822" y="665.6">CORTEZ_MASTO</text><text x="822" y="670.2">(NV)</text></g>
<g id="hirono"><ellipse class="b4" cx="567" cy="680" rx="12.5" ry="6"/><text x="567" y="679.6">HIRONO</text><text x="567" y="684.2">(HI)</text></g>
<g id="leahy"><ellipse class="b2" cx="713" cy="706" rx="10" ry="6"/><text x="713" y="705.6">LEAHY</text><text x="713" y="710.2">(VT)</text></g>
<g id="whitehouse"><ellipse class="b2" cx="823" cy="708" rx="19" ry="6"/><text x="823" y="707.6">WHITEHOUSE</text><text x="823" y="712.2">(RI)</text></g>
</g>
</svg>
